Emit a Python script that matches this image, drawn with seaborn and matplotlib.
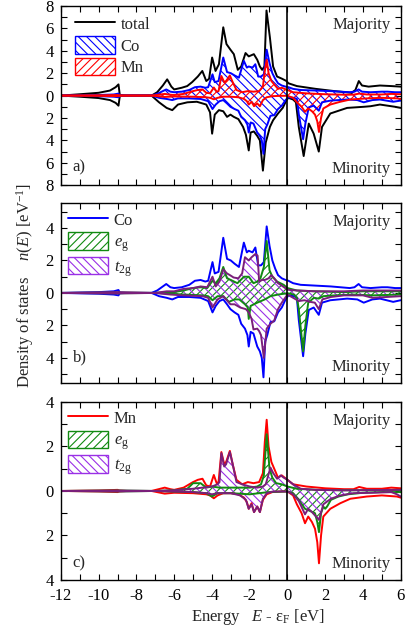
import numpy as np
import matplotlib
matplotlib.use("Agg")
import matplotlib.pyplot as plt
from matplotlib.patches import Patch
from matplotlib.lines import Line2D
from matplotlib.ticker import MultipleLocator, FuncFormatter
import seaborn as sns

# ---------------- data ----------------
# Panel a: total DOS
TOT_UP_E = [-12, -11, -10, -9.4, -9.1, -8.95, -8.88, -8.5, -7.2, -6.9, -6.6, -6.37, -6.15, -6.0, -5.6, -5.31, -5.05, -4.75, -4.51, -4.3, -4.15, -3.99, -3.81, -3.63, -3.40, -3.23, -3.02, -2.84, -2.63, -2.45, -2.22, -2.05, -1.78, -1.60, -1.46, -1.34, -1.22, -1.11, -0.93, -0.76, -0.55, -0.28, -0.05, 0.05, 0.5, 1.5, 2.5, 3.4, 3.6, 3.78, 3.95, 4.3, 4.9, 5.5, 6.0]
TOT_UP = [0, 0.12, 0.25, 0.45, 0.75, 1.0, 0.05, 0, 0, 0.3, 0.9, 1.45, 0.8, 0.55, 0.7, 0.85, 1.2, 1.7, 2.2, 1.3, 1.5, 3.4, 2.2, 2.8, 6.1, 4.6, 4.1, 3.7, 2.3, 2.6, 3.8, 3.5, 3.7, 3.2, 2.6, 2.3, 2.6, 7.6, 5.2, 2.6, 1.7, 1.5, 1.3, 1.1, 0.85, 0.6, 0.4, 0.25, 0.5, 1.3, 0.9, 0.8, 0.9, 0.85, 0.8]
TOT_DN_E = [-12, -11, -10, -9.4, -9.1, -8.95, -8.88, -8.5, -7.2, -6.8, -6.4, -6.1, -5.8, -5.3, -4.8, -4.3, -4.1, -3.99, -3.85, -3.63, -3.4, -3.2, -3.02, -2.84, -2.6, -2.35, -2.2, -2.05, -1.95, -1.78, -1.6, -1.46, -1.3, -1.15, -0.93, -0.76, -0.5, -0.25, -0.05, 0.05, 0.3, 0.45, 0.6, 0.86, 1.13, 1.39, 1.66, 1.83, 2.27, 3.16, 4.04, 4.4, 4.9, 5.7, 6.0]
TOT_DN = [0, 0.1, 0.22, 0.4, 0.65, 0.9, 0.05, 0, 0, 0.6, 1.1, 1.3, 0.8, 0.6, 0.55, 0.8, 1.5, 3.4, 1.7, 1.3, 1.4, 1.9, 1.7, 1.9, 2.1, 2.8, 3.5, 4.9, 3.3, 3.2, 3.6, 4.0, 6.7, 4.2, 2.8, 2.2, 1.6, 1.1, 0.4, 0.2, 0.35, 0.6, 2.8, 5.4, 2.5, 3.4, 5.0, 2.8, 1.6, 1.1, 1.0, 0.95, 0.8, 1.0, 1.1]

# Co (panels a, b)
CO_UP_E = [-12, -10, -9.2, -8.95, -8.88, -8.5, -7.2, -6.9, -6.6, -6.42, -6.2, -6.0, -5.6, -5.2, -4.9, -4.6, -4.35, -4.2, -3.97, -3.85, -3.65, -3.4, -3.2, -3.0, -2.8, -2.57, -2.31, -2.15, -2.05, -1.85, -1.7, -1.55, -1.4, -1.25, -1.1, -0.95, -0.8, -0.65, -0.5, -0.3, -0.1, 0.05, 0.3, 0.7, 1.5, 2.3, 3.3, 3.55, 3.77, 3.95, 4.4, 5.0, 5.3, 5.7, 6.0]
CO_UP = [0, 0.05, 0.1, 0.18, 0.02, 0, 0, 0.15, 0.4, 0.55, 0.35, 0.3, 0.35, 0.5, 0.75, 0.8, 0.7, 0.75, 1.9, 1.2, 1.3, 3.4, 2.1, 2.0, 1.8, 1.6, 3.1, 2.5, 2.6, 2.5, 2.8, 1.7, 1.7, 1.9, 4.1, 2.9, 2.0, 1.5, 1.1, 0.9, 0.8, 0.75, 0.6, 0.5, 0.45, 0.4, 0.3, 0.35, 0.55, 0.35, 0.3, 0.35, 0.35, 0.3, 0.3]
CO_DN_E = [-12, -10, -9.2, -8.95, -8.88, -8.5, -7.2, -6.8, -6.4, -6.1, -5.8, -5.2, -4.6, -4.2, -3.97, -3.8, -3.6, -3.4, -3.2, -3.02, -2.8, -2.6, -2.45, -2.25, -2.12, -2.05, -1.95, -1.8, -1.6, -1.46, -1.36, -1.27, -1.18, -1.07, -0.9, -0.7, -0.5, -0.3, -0.1, 0.05, 0.34, 0.5, 0.6, 0.83, 0.95, 1.13, 1.39, 1.66, 1.83, 2.27, 3.16, 3.7, 4.04, 4.5, 4.9, 5.6, 6.0]
CO_DN = [0, 0.05, 0.1, 0.15, 0.02, 0, 0, 0.2, 0.3, 0.4, 0.25, 0.25, 0.3, 0.5, 1.2, 0.8, 0.5, 0.4, 0.7, 1.0, 1.2, 1.35, 1.9, 2.2, 2.6, 3.3, 2.4, 2.5, 3.3, 3.6, 4.0, 5.2, 3.0, 2.6, 1.8, 1.75, 1.2, 0.9, 0.4, 0.15, 0.2, 0.3, 1.66, 3.9, 2.5, 1.05, 0.9, 1.35, 0.6, 0.45, 0.35, 0.4, 0.6, 0.4, 0.35, 0.55, 0.45]

# Co e_g / t_2g (panel b)
COEG_UP_E = [-12, -9, -7.0, -6.4, -6.0, -5.5, -5.0, -4.6, -4.25, -3.97, -3.8, -3.6, -3.4, -3.2, -3.0, -2.65, -2.3, -2.05, -1.8, -1.6, -1.43, -1.25, -1.1, -0.95, -0.8, -0.55, -0.2, 0.0, 0.5, 1.5, 3.0, 4.0, 6.0]
COEG_UP = [0, 0.02, 0, 0.05, 0.05, 0.15, 0.3, 0.35, 0.3, 0.75, 0.6, 0.9, 1.6, 0.9, 0.8, 0.6, 1.0, 1.0, 0.6, 0.7, 0.9, 1.6, 3.2, 1.4, 1.0, 0.7, 0.5, 0.3, 0.15, 0.1, 0.05, 0.1, 0.1]
COEG_DN_E = [-12, -9, -7.0, -6.2, -5.5, -4.5, -4.2, -3.97, -3.7, -3.4, -3.1, -2.8, -2.55, -2.25, -2.1, -2.05, -1.95, -1.6, -1.2, -0.9, -0.5, 0.0, 0.35, 0.5, 0.6, 0.83, 0.95, 1.1, 1.4, 1.66, 1.9, 2.5, 3.5, 4.5, 6.0]
COEG_DN = [0, 0.02, 0, 0.05, 0.1, 0.15, 0.2, 0.45, 0.2, 0.2, 0.55, 0.4, 0.4, 0.7, 0.9, 1.6, 0.8, 0.6, 0.4, 0.2, 0.1, 0.02, 0.1, 0.3, 1.0, 3.6, 2.0, 0.6, 0.3, 0.35, 0.2, 0.15, 0.1, 0.15, 0.1]
COT2_UP_E = [-12, -9, -7.0, -6.4, -6.0, -5.5, -5.0, -4.6, -4.25, -3.97, -3.8, -3.6, -3.4, -3.2, -3.05, -2.85, -2.6, -2.4, -2.25, -2.05, -1.9, -1.7, -1.58, -1.5, -1.35, -1.2, -1.0, -0.85, -0.7, -0.5, -0.3, 0.0, 0.5, 1.5, 3.0, 4.0, 6.0]
COT2_UP = [0, 0.05, 0, 0.1, 0.1, 0.25, 0.3, 0.4, 0.35, 1.0, 0.4, 0.7, 1.45, 1.2, 1.1, 0.95, 0.9, 1.2, 2.2, 2.0, 2.2, 2.4, 2.3, 0.7, 0.8, 0.8, 0.9, 1.1, 0.9, 0.6, 0.45, 0.2, 0.15, 0.1, 0.1, 0.15, 0.15]
COT2_DN_E = [-12, -9, -7.0, -6.2, -5.5, -4.5, -4.2, -3.97, -3.7, -3.4, -3.02, -2.8, -2.5, -2.2, -2.05, -1.9, -1.8, -1.6, -1.5, -1.4, -1.25, -1.1, -0.9, -0.7, -0.5, -0.3, 0.0, 0.3, 0.6, 0.9, 1.2, 1.45, 1.66, 1.85, 2.3, 3.0, 4.0, 4.5, 6.0]
COT2_DN = [0, 0.03, 0, 0.1, 0.15, 0.2, 0.3, 0.9, 0.4, 0.2, 0.7, 0.7, 0.9, 1.0, 1.2, 1.6, 2.25, 2.2, 2.35, 2.6, 4.0, 2.2, 1.9, 1.7, 1.0, 0.6, 0.1, 0.3, 0.5, 0.45, 0.55, 0.6, 1.0, 0.4, 0.25, 0.15, 0.15, 0.3, 0.2]

# Mn (panels a, c)
MN_UP_E = [-12, -10, -9.0, -8.9, -8.5, -7.2, -6.5, -6.2, -6.0, -5.5, -5.0, -4.75, -4.5, -4.3, -4.1, -3.9, -3.75, -3.65, -3.5, -3.35, -3.25, -3.05, -2.9, -2.7, -2.4, -2.1, -1.8, -1.5, -1.3, -1.2, -1.1, -1.0, -0.85, -0.7, -0.5, -0.3, -0.15, 0.0, 0.3, 1.0, 2.0, 3.0, 3.5, 3.8, 4.2, 5.0, 5.5, 6.0]
MN_UP = [0, 0.02, 0.05, 0.02, 0, 0, 0.15, 0.08, 0.05, 0.15, 0.4, 0.5, 0.55, 0.25, 0.2, 0.72, 0.35, 0.4, 1.75, 1.2, 1.3, 1.8, 1.2, 0.5, 0.3, 0.4, 0.35, 0.4, 0.8, 2.2, 3.2, 2.0, 1.3, 1.0, 0.6, 0.7, 0.6, 0.5, 0.3, 0.2, 0.12, 0.08, 0.08, 0.18, 0.1, 0.1, 0.15, 0.12]
MN_DN_E = [-12, -10, -9.0, -8.9, -8.5, -7.2, -6.5, -6.0, -5.0, -4.3, -4.1, -3.9, -3.7, -3.4, -3.0, -2.6, -2.3, -2.15, -2.05, -1.9, -1.77, -1.6, -1.46, -1.3, -1.1, -0.8, -0.3, 0.0, 0.3, 0.5, 0.75, 0.93, 1.1, 1.3, 1.46, 1.58, 1.67, 1.78, 1.9, 2.27, 2.8, 3.33, 4.2, 5.0, 5.8, 6.0]
MN_DN = [0, 0.02, 0.05, 0.02, 0, 0, 0.12, 0.08, 0.1, 0.15, 0.2, 0.33, 0.2, 0.1, 0.1, 0.15, 0.3, 0.5, 0.8, 0.55, 0.95, 0.7, 0.95, 0.4, 0.15, 0.05, 0.02, 0.02, 0.2, 0.6, 1.0, 1.45, 1.15, 1.4, 1.7, 2.3, 3.25, 2.0, 1.15, 0.8, 0.55, 0.35, 0.25, 0.2, 0.25, 0.3]

# Mn e_g / t_2g (panel c)
MNEG_UP_E = [-12, -9, -7.0, -6.0, -5.3, -5.0, -4.6, -4.3, -4.0, -3.6, -3.0, -2.5, -2.0, -1.6, -1.4, -1.25, -1.1, -0.95, -0.8, -0.6, -0.3, 0.0, 0.5, 1.5, 3.0, 6.0]
MNEG_UP = [0, 0.02, 0, 0.03, 0.1, 0.35, 0.35, 0.15, 0.2, 0.15, 0.15, 0.15, 0.15, 0.2, 0.3, 0.7, 2.55, 1.0, 0.6, 0.35, 0.3, 0.2, 0.1, 0.05, 0.03, 0.05]
MNEG_DN_E = [-12, -9, -7.0, -5.0, -4.3, -4.0, -3.7, -3.0, -2.0, -1.5, -1.0, 0.0, 0.3, 0.6, 0.93, 1.2, 1.46, 1.58, 1.67, 1.78, 1.9, 2.0, 2.1, 2.3, 2.7, 3.2, 4.0, 5.0, 6.0]
MNEG_DN = [0, 0.02, 0, 0.05, 0.1, 0.25, 0.1, 0.1, 0.15, 0.1, 0.05, 0.02, 0.1, 0.4, 0.8, 0.9, 1.0, 1.4, 1.85, 1.0, 0.7, 0.8, 0.7, 0.4, 0.25, 0.15, 0.08, 0.05, 0.05]
MNT2_UP_E = [-12, -9, -7.0, -6.0, -5.0, -4.5, -4.0, -3.7, -3.6, -3.5, -3.35, -3.25, -3.05, -2.9, -2.7, -2.4, -2.0, -1.6, -1.3, -1.15, -0.9, -0.75, -0.55, -0.35, -0.2, 0.0, 0.3, 0.7, 1.5, 3.0, 6.0]
MNT2_UP = [0, 0.02, 0, 0.03, 0.1, 0.15, 0.2, 0.3, 0.4, 1.7, 1.1, 1.2, 1.75, 1.2, 0.4, 0.3, 0.2, 0.15, 0.2, 0.3, 1.05, 0.8, 0.55, 0.7, 0.6, 0.5, 0.3, 0.1, 0.05, 0.03, 0.05]
MNT2_DN_E = [-12, -9, -7.0, -5.0, -4.3, -4.0, -3.7, -3.0, -2.5, -2.2, -2.05, -1.9, -1.77, -1.6, -1.46, -1.3, -1.1, -0.8, 0.0, 0.3, 0.6, 0.93, 1.1, 1.3, 1.46, 1.67, 1.9, 2.3, 2.8, 3.5, 4.5, 5.5, 5.8, 6.0]
MNT2_DN = [0, 0.02, 0, 0.05, 0.1, 0.15, 0.1, 0.1, 0.2, 0.4, 0.8, 0.6, 0.95, 0.7, 0.95, 0.35, 0.1, 0.03, 0.02, 0.15, 0.45, 1.05, 0.8, 0.95, 1.1, 1.3, 0.6, 0.35, 0.2, 0.1, 0.08, 0.05, 0.15, 0.25]

PANEL_LABELS = ["a)", "b)", "c)"]
X_LABEL = r"Energy   $E$ - ε$_{\mathrm{F}}$ [eV]"
Y_LABEL = r"Density of states    $n(E)$ [eV$^{-1}$]"

# ---------------- style ----------------
sns.set_theme(style="ticks")
plt.rcParams["font.family"] = ["Liberation Serif", "DejaVu Serif"]
plt.rcParams["mathtext.fontset"] = "custom"
plt.rcParams["mathtext.rm"] = "Liberation Serif"
plt.rcParams["mathtext.it"] = "Liberation Serif:italic"
plt.rcParams["axes.unicode_minus"] = False
plt.rcParams["hatch.linewidth"] = 0.8
FS = 12

BLACK = "#000000"
BLUE = "#0000ff"
RED = "#ff0000"
GREEN = "#118a11"
PURPLE = "#7a1f7a"
VIOLET = "#9a30e6"
LW = 1.4

fig = plt.figure(figsize=(4.06, 6.32), dpi=100)
L, W = 0.150, 0.837
axA = fig.add_axes([L, 0.707, W, 0.2835])
axB = fig.add_axes([L, 0.394, W, 0.285])
axC = fig.add_axes([L, 0.0823, W, 0.2817])


def curve(ax, E, V, color, sign=1, lw=LW):
    sns.lineplot(x=np.asarray(E, float), y=sign * np.asarray(V, float), ax=ax,
                 color=color, lw=lw, sort=False, estimator=None, legend=False)


def hatched(ax, E, V, color, hatch, sign=1, hcolor=None):
    ax.fill_between(np.asarray(E, float), 0, sign * np.asarray(V, float),
                    facecolor="none", edgecolor=hcolor or color, hatch=hatch, linewidth=0)
    curve(ax, E, V, color, sign)


# Panel a
curve(axA, TOT_UP_E, TOT_UP, BLACK)
curve(axA, TOT_DN_E, TOT_DN, BLACK, -1)
hatched(axA, CO_UP_E, CO_UP, BLUE, "\\\\\\\\")
hatched(axA, CO_DN_E, CO_DN, BLUE, "\\\\\\\\", -1)
hatched(axA, MN_UP_E, MN_UP, RED, "////")
hatched(axA, MN_DN_E, MN_DN, RED, "////", -1)

# Panel b
curve(axB, CO_UP_E, CO_UP, BLUE)
curve(axB, CO_DN_E, CO_DN, BLUE, -1)
hatched(axB, COEG_UP_E, COEG_UP, GREEN, "////")
hatched(axB, COEG_DN_E, COEG_DN, GREEN, "////", -1)
hatched(axB, COT2_UP_E, COT2_UP, PURPLE, "\\\\\\\\", hcolor=VIOLET)
hatched(axB, COT2_DN_E, COT2_DN, PURPLE, "\\\\\\\\", -1, hcolor=VIOLET)

# Panel c
curve(axC, MN_UP_E, MN_UP, RED)
curve(axC, MN_DN_E, MN_DN, RED, -1)
hatched(axC, MNEG_UP_E, MNEG_UP, GREEN, "////")
hatched(axC, MNEG_DN_E, MNEG_DN, GREEN, "////", -1)
hatched(axC, MNT2_UP_E, MNT2_UP, PURPLE, "\\\\\\\\", hcolor=VIOLET)
hatched(axC, MNT2_DN_E, MNT2_DN, PURPLE, "\\\\\\\\", -1, hcolor=VIOLET)

fmt_abs_even = FuncFormatter(lambda v, p: f"{abs(int(round(v)))}" if int(round(v)) % 2 == 0 else "")
fmt_even = FuncFormatter(lambda v, p: f"{int(round(v))}" if int(round(v)) % 2 == 0 else "")

for ax, ylim, lab, laby in [(axA, 8, "a)", 0.10), (axB, 5.55, "b)", 0.14), (axC, 4, "c)", 0.095)]:
    ax.set_xlim(-12, 6)
    ax.set_ylim(-ylim, ylim)
    ax.axvline(0, color="black", lw=1.2, zorder=5)
    ax.xaxis.set_major_locator(MultipleLocator(1))
    ax.yaxis.set_major_locator(MultipleLocator(1))
    ax.yaxis.set_major_formatter(fmt_abs_even)
    ax.xaxis.set_major_formatter(fmt_even)
    ax.tick_params(direction="in", length=4, width=0.8, top=True, right=True,
                   labelsize=FS, colors="black")
    ax.tick_params(axis="y", pad=5)
    ax.tick_params(axis="x", pad=6)
    for s in ax.spines.values():
        s.set_linewidth(1.0)
        s.set_color("black")
    ax.set_xlabel("")
    ax.set_ylabel("")
    ax.text(0.97, 0.894, "Majority", transform=ax.transAxes, ha="right", va="center", fontsize=FS)
    ax.text(0.97, 0.09, "Minority", transform=ax.transAxes, ha="right", va="center", fontsize=FS)
    ax.text(0.035, laby, lab, transform=ax.transAxes, ha="left", va="center", fontsize=FS)

for ax in (axA, axB):
    ax.tick_params(labelbottom=False)

leg_kw = dict(frameon=False, fontsize=FS, handlelength=2.4, handleheight=1.2,
              labelspacing=0.2, handletextpad=0.35, borderpad=0, borderaxespad=0,
              loc="upper left")
axA.legend(handles=[Line2D([], [], color=BLACK, lw=LW),
                    Patch(facecolor="white", edgecolor=BLUE, hatch="\\\\\\\\", lw=1.0),
                    Patch(facecolor="white", edgecolor=RED, hatch="////", lw=1.0)],
           labels=["total", "Co", "Mn"], bbox_to_anchor=(0.041, 0.95), **leg_kw)
axB.legend(handles=[Line2D([], [], color=BLUE, lw=LW),
                    Patch(facecolor="white", edgecolor=GREEN, hatch="////", lw=1.0),
                    Patch(facecolor="white", edgecolor=VIOLET, hatch="\\\\\\\\", lw=1.0)],
           labels=["Co", r"$e_{\mathrm{g}}$", r"$t_{2\mathrm{g}}$"], bbox_to_anchor=(0.02, 0.955), **leg_kw)
axC.legend(handles=[Line2D([], [], color=RED, lw=LW),
                    Patch(facecolor="white", edgecolor=GREEN, hatch="////", lw=1.0),
                    Patch(facecolor="white", edgecolor=VIOLET, hatch="\\\\\\\\", lw=1.0)],
           labels=["Mn", r"$e_{\mathrm{g}}$", r"$t_{2\mathrm{g}}$"], bbox_to_anchor=(0.02, 0.96), **leg_kw)

fig.text(0.062, 0.549, Y_LABEL, rotation=90, ha="center", va="center", fontsize=FS)
fig.text(0.635, 0.024, X_LABEL, ha="center", va="center", fontsize=FS)

fig.savefig("out.png", dpi=100)
